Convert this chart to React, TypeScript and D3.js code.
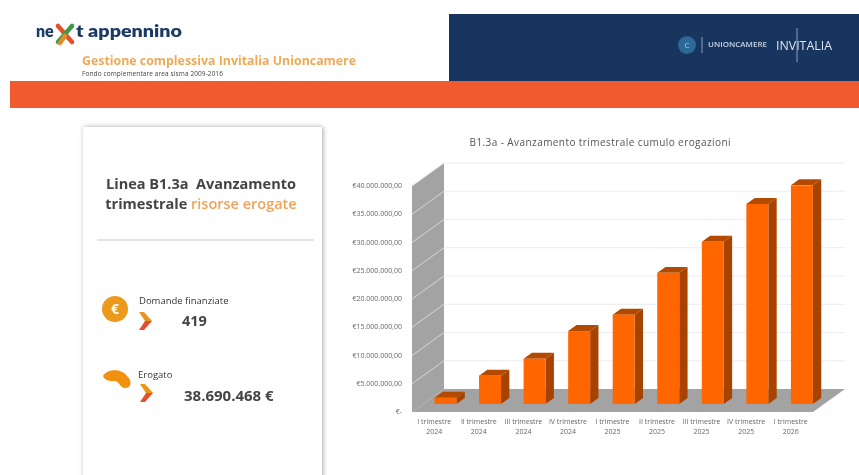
import React from "react";
import * as d3 from "d3";

const quarters = ["I trimestre 2024","II trimestre 2024","III trimestre 2024","IV trimestre 2024","I trimestre 2025","II trimestre 2025","III trimestre 2025","IV trimestre 2025","I trimestre 2026"];
const erogazioni = [1100000,5000000,8000000,12900000,15800000,23200000,28700000,35400000,38690468];
const yTicks = [0,5000000,10000000,15000000,20000000,25000000,30000000,35000000,40000000];
const chartTitle = "B1.3a - Avanzamento trimestrale cumulo erogazioni";
const cardTitle = ["Linea B1.3a\u00A0\u00A0Avanzamento", "trimestrale ", "risorse erogate"];
const headerTitle = "Gestione complessiva Invitalia Unioncamere";
const headerSub = "Fondo complementare area sisma 2009-2016";
const kpis = ["Domande finanziate", "419", "Erogato", "38.690.468 €"];

const x = d3.scaleBand<string>().domain(quarters).range([412, 813]);
const y = d3.scaleLinear().domain([0, 40000000]).range([412, 186]);
const DX = 32, DY = 23;
const proj = (px: number, v: number, d: number): [number, number] => [px + DX * d, y(v) - DY * d];
const poly = (pts: [number, number][]) => pts.map(p => p.join(",")).join(" ");
const fmt = (v: number) => v === 0 ? "€-" : "€" + d3.format(",.2f")(v).replace(/,/g, "#").replace(".", ",").replace(/#/g, ".");
const sans = "'Open Sans', sans-serif";
const navy = "#1b3a66";

const Chevron = ({ cx, cy }: { cx: number; cy: number }) => (
  <g>
    <path d={`M${cx - 6},${cy - 9} L${cx - 1},${cy - 9} L${cx + 7},${cy} L${cx},${cy} Z`} fill="#e8961c" />
    <path d={`M${cx + 7},${cy} L${cx - 1},${cy + 9} L${cx - 6},${cy + 9} L${cx},${cy} Z`} fill="#e2502c" />
  </g>
);

export default function App() {
  const band = x.bandwidth();
  const d0 = 0.35, d1 = 0.61, barW = 22;
  return (
    <svg width={859} height={475} style={{ position: "absolute", left: 0, top: 0, background: "#fff", filter: "blur(0.6px)" }} fontFamily={sans}>
      <defs>
        <filter id="sh" x="-10%" y="-10%" width="120%" height="120%">
          <feDropShadow dx="1" dy="0" stdDeviation="2.5" floodColor="#000" floodOpacity="0.35" />
        </filter>
      </defs>
      <rect x={449} y={14} width={410} height={67} fill="#17355f" />
      <rect x={10} y={81} width={849} height={27} fill="#f05a2e" />

      <text x={36} y={37} fontSize={16} fontWeight={800} fill={navy} fontFamily="Lato, sans-serif">ne</text>
      <g strokeWidth={4.5} strokeLinecap="round">
        <line x1={58} y1={26} x2={72} y2={42} stroke="#e2502c" />
        <line x1={58} y1={42} x2={72} y2={26} stroke="#3f9a4a" />
        <line x1={65} y1={36} x2={60} y2={43} stroke="#e88a2c" />
      </g>
      <text x={76} y={37} fontSize={16} fontWeight={800} fill={navy} fontFamily="Lato, sans-serif" textLength={106} lengthAdjust="spacingAndGlyphs">t appennino</text>
      <text x={82} y={65} fontSize={12} fontWeight={700} fill="#eeaa55" textLength={274} lengthAdjust="spacingAndGlyphs">{headerTitle}</text>
      <text x={82} y={76} fontSize={6.5} fill="#444" textLength={141}>{headerSub}</text>

      <g>
        <circle cx={687} cy={45} r={9} fill="#2b6a94" />
        <text x={687} y={48} fontSize={8} fill="#bcd" textAnchor="middle">C</text>
        <line x1={702} y1={37} x2={702} y2={53} stroke="#8aa0bb" />
        <text x={708} y={47} fontSize={6.5} fontWeight={600} fill="#c8d4e4" textLength={59} lengthAdjust="spacingAndGlyphs">UNIONCAMERE</text>
        <text x={776} y={50} fontSize={12} fill="#dde6f0" textLength={56} lengthAdjust="spacingAndGlyphs">INVITALIA</text>
        <line x1={797} y1={28} x2={797} y2={62} stroke="#8aa0bb" />
      </g>

      <rect x={83} y={127} width={239} height={360} fill="#fff" filter="url(#sh)" />
      <text x={201} y={189} fontSize={14.5} fontWeight={700} fill="#444" textAnchor="middle">{cardTitle[0]}</text>
      <text x={201} y={209} fontSize={14.5} textAnchor="middle" fontWeight={700} fill="#444">
        {cardTitle[1]}<tspan fill="#f0a35a" fontWeight={600}>{cardTitle[2]}</tspan>
      </text>
      <line x1={97} y1={240} x2={314} y2={240} stroke="#ddd" strokeWidth={1.5} />

      <circle cx={115} cy={309} r={13} fill="#ec9a1c" />
      <text x={115} y={314} fontSize={14} fontWeight={700} fill="#fff" textAnchor="middle">€</text>
      <text x={139} y={304} fontSize={9.5} fill="#333">{kpis[0]}</text>
      <Chevron cx={145} cy={321} />
      <text x={182} y={326} fontSize={14.5} fontWeight={700} fill="#444">{kpis[1]}</text>

      <path d="M103,376 C108,368 122,369 127,376 C132,380 132,388 125,388 C120,388 120,382 115,381 C110,381 105,381 103,376 Z" fill="#f2910f" />
      <text x={138} y={378} fontSize={9.5} fill="#333">{kpis[2]}</text>
      <Chevron cx={146} cy={393} />
      <text x={184} y={401} fontSize={15} fontWeight={700} fill="#444">{kpis[3]}</text>

      <text x={600} y={146} fontSize={10} fill="#555" textAnchor="middle" textLength={261}>{chartTitle}</text>

      <polygon points={poly([proj(412, 0, 0), proj(412, 0, 1), proj(412, 40000000, 1), proj(412, 40000000, 0)])} fill="#a3a3a3" />
      <polygon points={poly([proj(412, 0, 0), proj(813, 0, 0), proj(813, 0, 1), proj(412, 0, 1)])} fill="#a3a3a3" />
      {yTicks.map(t => {
        const a = proj(412, t, 0), b = proj(412, t, 1), c = proj(813, t, 1);
        return (
          <g key={t}>
            {t > 0 && <line x1={a[0]} y1={a[1]} x2={b[0]} y2={b[1]} stroke="#e4e4e4" strokeWidth={0.8} />}
            {t > 0 && <line x1={b[0]} y1={b[1]} x2={c[0]} y2={c[1]} stroke="#ececec" strokeWidth={1} />}
            <text x={402} y={a[1] + 2} fontSize={7} fill="#666" textAnchor="end">{fmt(t)}</text>
          </g>
        );
      })}

      {quarters.map((q, i) => {
        const left = (x(q) as number) + band / 2 + DX * d0 - barW / 2;
        const right = left + barW;
        const v = erogazioni[i];
        const dx = DX * (d1 - d0), dy = DY * (d1 - d0);
        const fb = y(0) - DY * d0, ft = y(v) - DY * d0;
        return (
          <g key={q}>
            <polygon points={poly([[left, ft], [right, ft], [right + dx, ft - dy], [left + dx, ft - dy]])} fill="#b44a00" />
            <polygon points={poly([[right, ft], [right + dx, ft - dy], [right + dx, fb - dy], [right, fb]])} fill="#a64300" />
            <rect x={left} y={ft} width={barW} height={fb - ft} fill="#ff6600" />
          </g>
        );
      })}

      {quarters.map(q => {
        const cx = (x(q) as number) + band / 2;
        const parts = q.split(" ");
        return (
          <text key={q} x={cx} fontSize={7} fill="#666" textAnchor="middle">
            <tspan x={cx} y={424}>{parts[0] + " " + parts[1]}</tspan>
            <tspan x={cx} y={434}>{parts[2]}</tspan>
          </text>
        );
      })}
    </svg>
  );
}
